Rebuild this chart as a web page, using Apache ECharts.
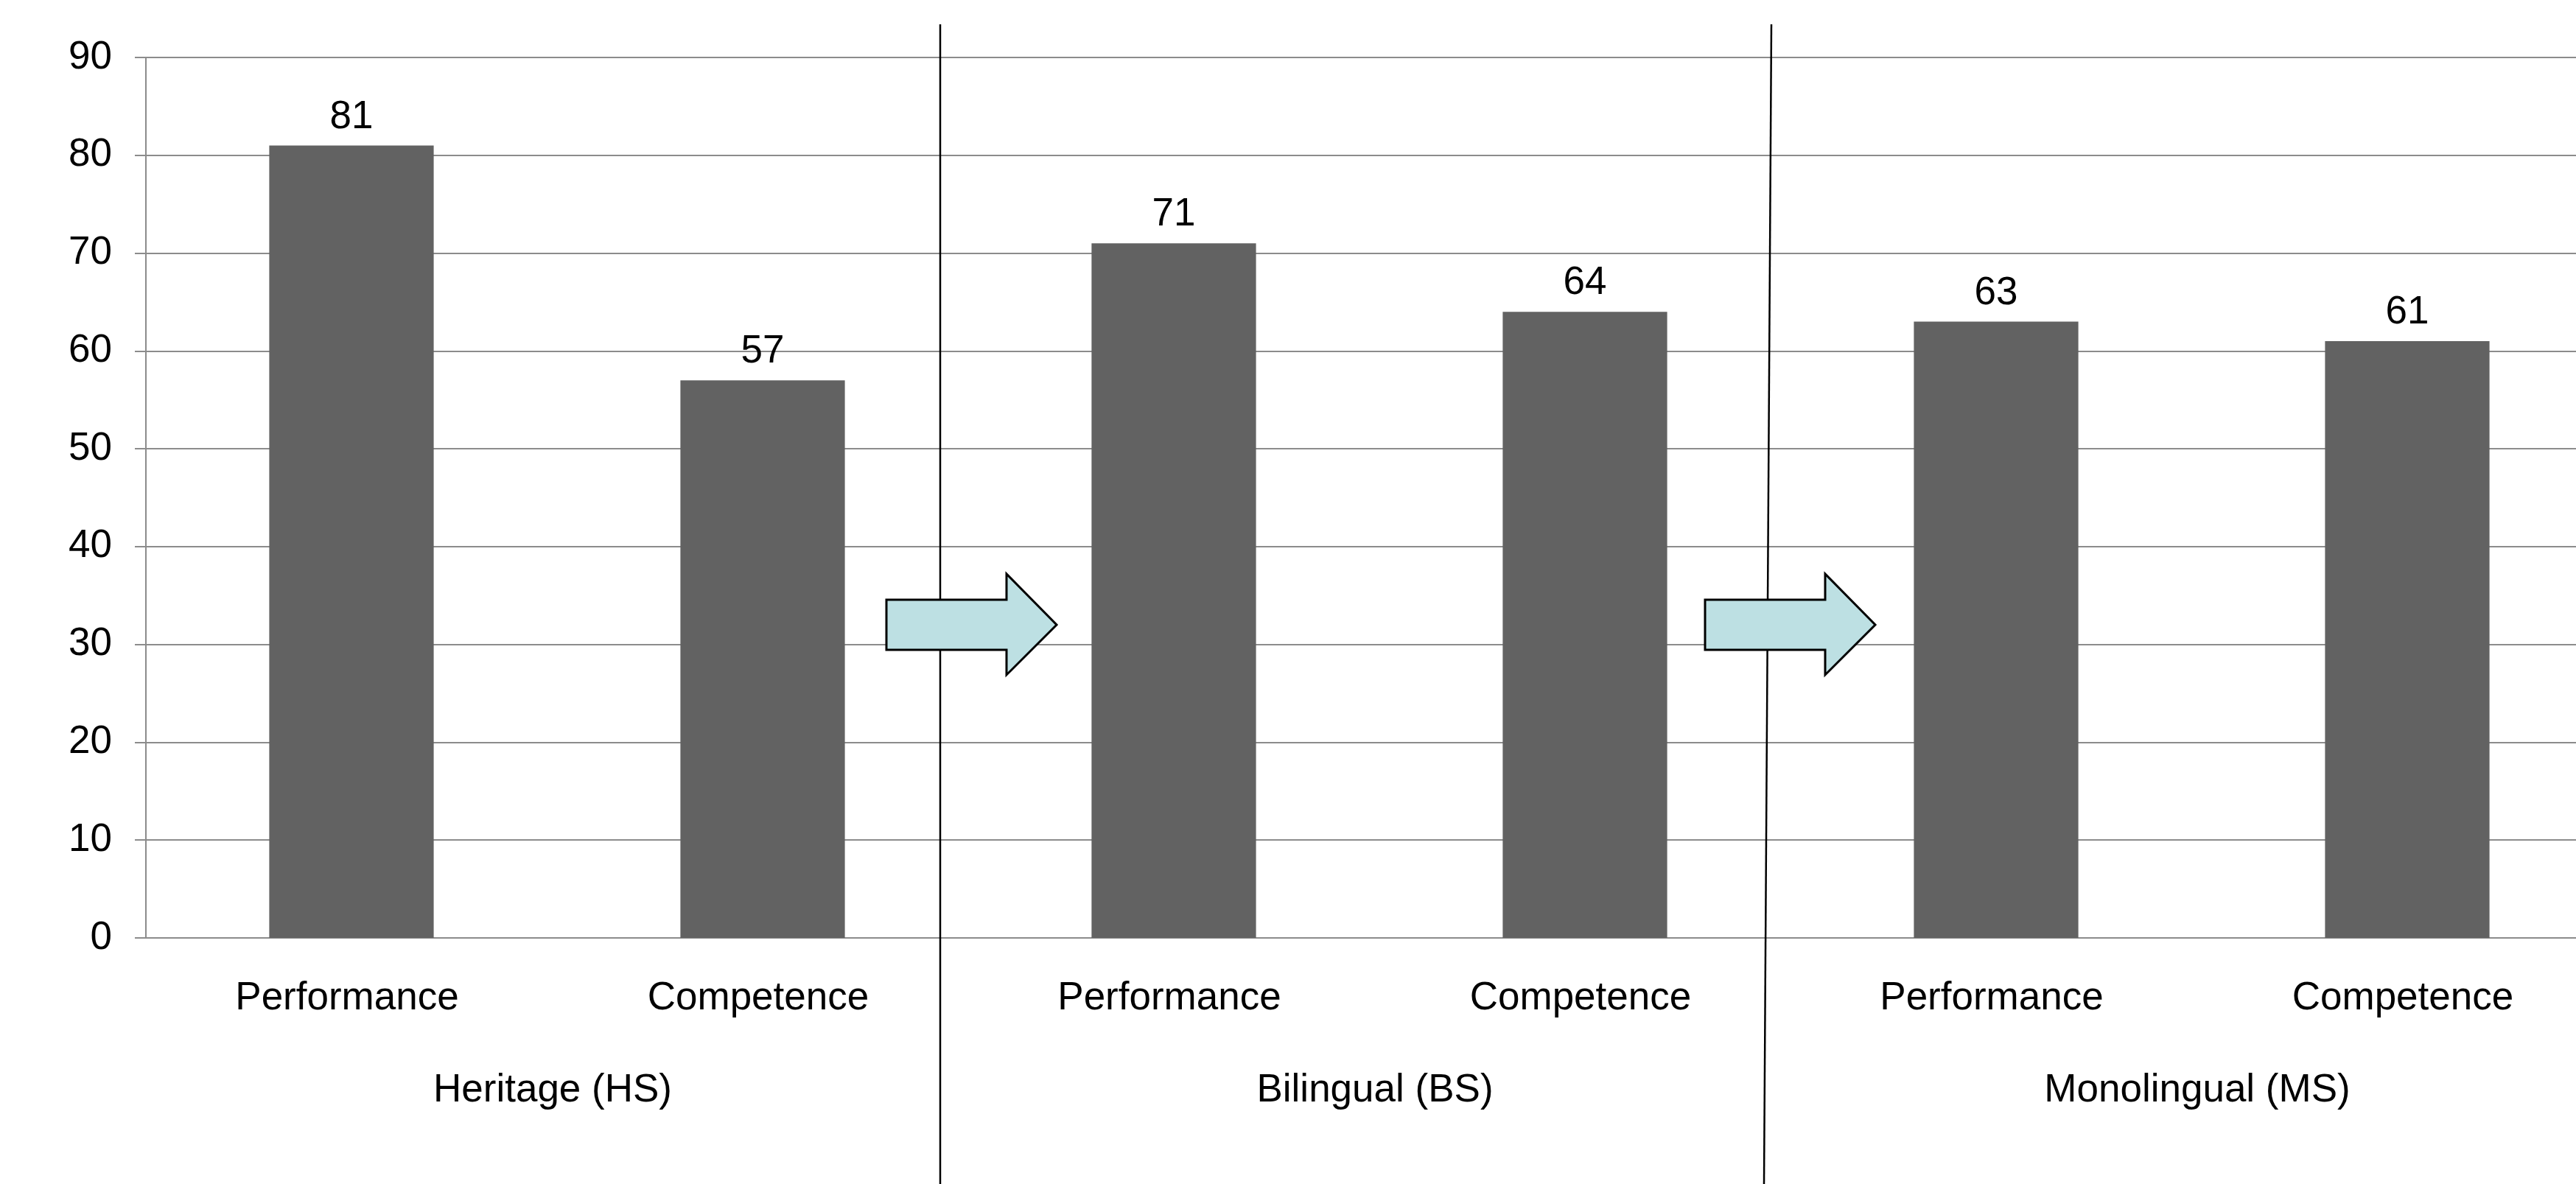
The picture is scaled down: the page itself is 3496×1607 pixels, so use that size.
<!DOCTYPE html>
<html>
<head>
<meta charset="utf-8">
<title>Performance vs Competence</title>
<script src="https://cdn.jsdelivr.net/npm/echarts@6/dist/echarts.min.js"></script>
<style>
  html, body { margin: 0; padding: 0; background: #ffffff; }
  #chart { width: 3496px; height: 1607px; }
</style>
</head>
<body>
<div id="chart"></div>
<script>
// Speaker groups (second label row) and the two measures per group (first label row)
const groups = ['Heritage (HS)', 'Bilingual (BS)', 'Monolingual (MS)'];
const measures = ['Performance', 'Competence'];
// Scores in group order: HS perf, HS comp, BS perf, BS comp, MS perf, MS comp
const scores = [81, 57, 71, 64, 63, 61];
// Value axis range
const yMin = 0;
const yMax = 90;
const yStep = 10;

const categories = [];
groups.forEach(function () { measures.forEach(function (m) { categories.push(m); }); });

const FONT = '"Liberation Sans", Arial, sans-serif';
const FONT_SIZE = 53;
const GRID_GRAY = '#8c8c8c';

const chart = echarts.init(document.getElementById('chart'), null, { renderer: 'canvas' });

// Shape of the block arrows placed between the groups
function arrowPoints(x, y) {
  return [
    [x, y + 35], [x + 163, y + 35], [x + 163, y], [x + 231, y + 69],
    [x + 163, y + 137], [x + 163, y + 103], [x, y + 103]
  ];
}

const option = {
  backgroundColor: '#ffffff',
  animation: false,
  textStyle: { fontFamily: FONT },
  // The plot area runs a little past the right edge of the canvas
  grid: {
    left: 198, top: 78, bottom: 334, width: 3348,
    containLabel: false,
    outerBoundsMode: 'none'
  },
  xAxis: [
    {
      type: 'category',
      data: categories,
      axisLine: { show: true, lineStyle: { color: GRID_GRAY, width: 2 } },
      axisTick: { show: false },
      axisLabel: {
        margin: 56, fontSize: FONT_SIZE, color: '#000000', fontFamily: FONT, interval: 0,
        padding: [0, 12, 0, 0]
      },
      splitLine: { show: false }
    },
    {
      type: 'category',
      data: groups,
      position: 'bottom',
      axisLine: { show: false },
      axisTick: { show: false },
      axisLabel: {
        margin: 181, fontSize: FONT_SIZE, color: '#000000', fontFamily: FONT, interval: 0,
        padding: [0, 12, 0, 0]
      },
      splitLine: { show: false }
    }
  ],
  yAxis: {
    type: 'value',
    min: yMin,
    max: yMax,
    interval: yStep,
    axisLine: { show: true, lineStyle: { color: GRID_GRAY, width: 2 } },
    axisTick: { show: true, length: 15, lineStyle: { color: GRID_GRAY, width: 2 } },
    axisLabel: { margin: 46, fontSize: FONT_SIZE, color: '#000000', fontFamily: FONT },
    splitLine: { show: true, lineStyle: { color: GRID_GRAY, width: 2 } }
  },
  series: [
    {
      type: 'bar',
      xAxisIndex: 0,
      data: scores,
      barWidth: '40%',
      itemStyle: { color: '#626262' },
      label: {
        show: true,
        position: 'top',
        distance: 12,
        fontSize: FONT_SIZE,
        color: '#000000',
        fontFamily: FONT
      }
    }
  ],
  graphic: [
    {
      type: 'line',
      z: 10,
      shape: { x1: 1276, y1: 33, x2: 1276, y2: 1607 },
      style: { stroke: '#000000', lineWidth: 2.5 }
    },
    {
      type: 'line',
      z: 10,
      shape: { x1: 2404, y1: 33, x2: 2394, y2: 1607 },
      style: { stroke: '#000000', lineWidth: 2.5 }
    },
    {
      type: 'polygon',
      z: 20,
      shape: { points: arrowPoints(1203, 779) },
      style: { fill: '#bde0e3', stroke: '#000000', lineWidth: 3, lineJoin: 'miter' }
    },
    {
      type: 'polygon',
      z: 20,
      shape: { points: arrowPoints(2314, 779) },
      style: { fill: '#bde0e3', stroke: '#000000', lineWidth: 3, lineJoin: 'miter' }
    }
  ]
};

chart.setOption(option);
</script>
</body>
</html>
